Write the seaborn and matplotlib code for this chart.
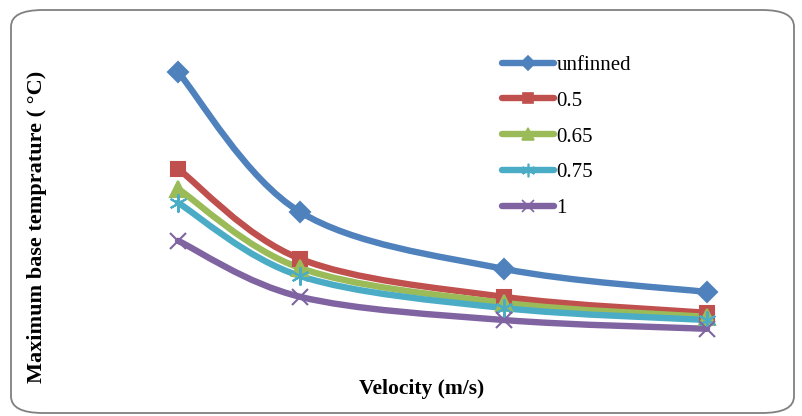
import numpy as np
import matplotlib
matplotlib.use("Agg")
import matplotlib.pyplot as plt
import seaborn as sns
import pandas as pd
from matplotlib.path import Path
from matplotlib.patches import PathPatch, FancyBboxPatch
from matplotlib.lines import Line2D

# data (y axis has no ticks, values estimated)
velocity = [1.0, 2.5, 5.0, 7.5]
unfinned = [124.5, 89.5, 75.3, 69.5]
fin_05 = [100.3, 77.8, 68.3, 64.3]
fin_065 = [95.3, 75.5, 66.8, 63.3]
fin_075 = [91.8, 73.5, 65.5, 62.5]
fin_1 = [82.3, 68.3, 62.5, 60.3]
labels = ["unfinned", "0.5", "0.65", "0.75", "1"]

colors = ["#4F81BD", "#C0504D", "#9BBB59", "#4BACC6", "#8064A2"]
markers = ["D", "s", "^", (6, 2, 0), "x"]
msizes = [10, 10, 11, 13, 12]

sns.set_theme(style="white")
plt.rcParams["font.family"] = ["Liberation Serif", "DejaVu Serif"]
plt.rcParams["text.color"] = "black"

W, H = 803, 416
fig = plt.figure(figsize=(W / 100, H / 100), dpi=100)

# rounded frame around the chart
frame = FancyBboxPatch((11 / W, 3 / H), 783 / W, 403 / H,
                       boxstyle="round,pad=0,rounding_size=0.04",
                       transform=fig.transFigure, fill=False,
                       edgecolor="#808080", linewidth=1.3)
fig.patches.append(frame)

# axes: x 1 -> px 178, 7.5 -> px 707 ; y 130 -> px 50, 55 -> px 350
ax = fig.add_axes([178 / W, (H - 350) / H, 529 / W, 300 / H])
ax.set_xlim(1, 7.5)
ax.set_ylim(55, 130)
ax.axis("off")


def smooth_path(xs, ys):
    # Catmull-Rom style bezier, like spreadsheet "smoothed line"
    p = np.column_stack([xs, ys])
    n = len(p)
    verts = [p[0]]
    codes = [Path.MOVETO]
    for i in range(n - 1):
        p0 = p[i - 1] if i > 0 else p[i]
        p1 = p[i]
        p2 = p[i + 1]
        p3 = p[i + 2] if i + 2 < n else p[i + 1]
        c1 = p1 + (p2 - p0) / 6
        c2 = p2 - (p3 - p1) / 6
        verts += [c1, c2, p2]
        codes += [Path.CURVE4] * 3
    return Path(verts, codes)


series = [unfinned, fin_05, fin_065, fin_075, fin_1]
rows = []
for lab, vals in zip(labels, series):
    for v, t in zip(velocity, vals):
        rows.append({"Velocity": v, "Temp": t, "fin": lab})
df = pd.DataFrame(rows)

for lab, vals, c in zip(labels, series, colors):
    ax.add_patch(PathPatch(smooth_path(velocity, vals), fill=False,
                           edgecolor=c, linewidth=4.6, capstyle="round",
                           clip_on=False, zorder=2))

for lab, c, m, ms in zip(labels, colors, markers, msizes):
    sub = df[df["fin"] == lab]
    ax.plot(sub["Velocity"], sub["Temp"], linestyle="none", marker=m,
            markersize=ms, color=c, markeredgecolor=c, markeredgewidth=1.5,
            clip_on=False, zorder=3)

handles = [Line2D([], [], color=c, linewidth=4.6, marker=m,
                  markersize=ms * 0.75, markeredgewidth=1.2,
                  solid_capstyle="round")
           for c, m, ms in zip(colors, markers, msizes)]
fig.legend(handles, labels, loc="upper left",
           bbox_to_anchor=(494 / W, 1 - 47 / H), frameon=False,
           fontsize=15, handlelength=2.5, handletextpad=0.1,
           labelspacing=0.78, borderaxespad=0)

fig.text(422 / W, 1 - 389 / H, "Velocity (m/s)", ha="center", va="center",
         fontsize=15.5, fontweight="bold")
fig.text(37 / W, 1 - 227 / H, "Maximum base temprature ( °C)", ha="center",
         va="center", rotation=90, fontsize=16, fontweight="bold")

fig.savefig("out.png", dpi=100)
